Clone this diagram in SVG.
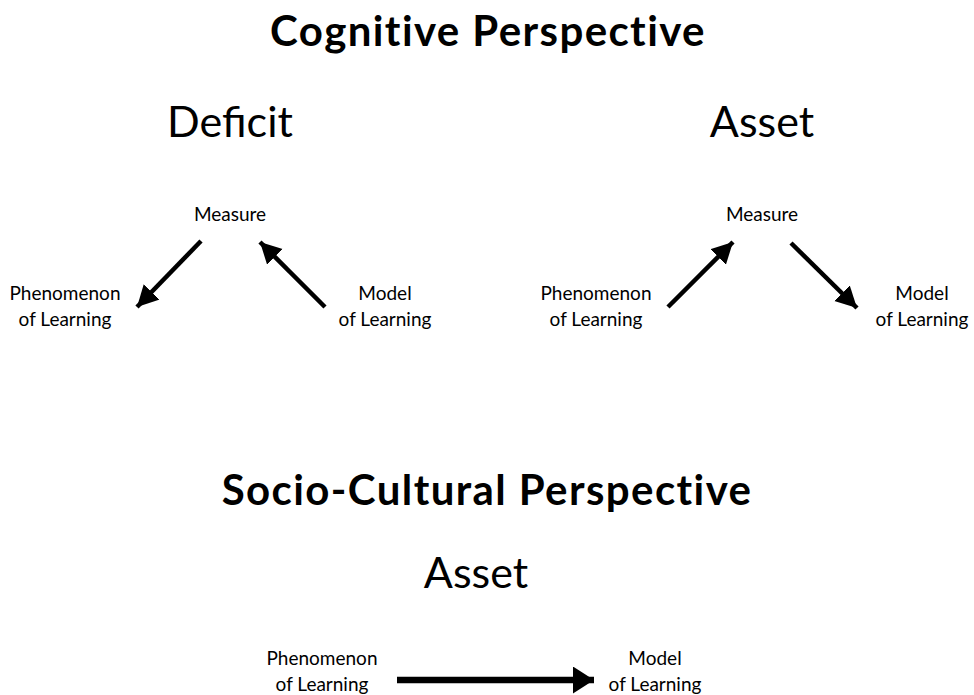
<svg xmlns="http://www.w3.org/2000/svg" width="974" height="695" viewBox="0 0 974 695">
<style>
text{font-family:Lato,"Open Sans","DejaVu Sans",sans-serif;fill:#000;text-anchor:middle}
.h1{font-size:42px;font-weight:700;letter-spacing:1.4px}
.h2{font-size:43px;font-weight:400}
.lb{font-size:19px;font-weight:400}
.ar{stroke:#000;stroke-width:4.5;fill:none}
.ar2{stroke:#000;stroke-width:6.5;fill:none}
</style>
<defs>
<marker id="ah" markerUnits="userSpaceOnUse" markerWidth="24" markerHeight="24" refX="21" refY="11" orient="auto">
<path d="M0,0 L21,11 L0,22 Z" fill="#000"/>
</marker>
<marker id="ah2" markerUnits="userSpaceOnUse" markerWidth="24" markerHeight="30" refX="21" refY="13.5" orient="auto">
<path d="M0,0 L21,13.5 L0,27 Z" fill="#000"/>
</marker>
</defs>
<rect width="974" height="695" fill="#fff"/>
<g id="titles">
<text class="h1" x="488" y="46">Cognitive Perspective</text>
<text class="h2" x="230" y="137">Deficit</text>
<text class="h2" x="762" y="137">Asset</text>
<text class="h1" x="487" y="505">Socio-Cultural Perspective</text>
<text class="h2" x="476" y="588">Asset</text>
</g>
<g id="deficit-measure"><text class="lb" x="230" y="221">Measure</text></g>
<g id="deficit-phenomenon"><text class="lb" x="65" y="300">Phenomenon</text><text class="lb" x="65" y="326">of Learning</text></g>
<g id="deficit-model"><text class="lb" x="385" y="300">Model</text><text class="lb" x="385" y="326">of Learning</text></g>
<g id="asset-measure"><text class="lb" x="762" y="221">Measure</text></g>
<g id="asset-phenomenon"><text class="lb" x="596" y="300">Phenomenon</text><text class="lb" x="596" y="326">of Learning</text></g>
<g id="asset-model"><text class="lb" x="922" y="300">Model</text><text class="lb" x="922" y="326">of Learning</text></g>
<g id="sc-phenomenon"><text class="lb" x="322" y="665">Phenomenon</text><text class="lb" x="322" y="691">of Learning</text></g>
<g id="sc-model"><text class="lb" x="655" y="665">Model</text><text class="lb" x="655" y="691">of Learning</text></g>
<g id="connectors">
<line class="ar" x1="201" y1="241" x2="137" y2="307" marker-end="url(#ah)"/>
<line class="ar" x1="325" y1="307" x2="260" y2="242" marker-end="url(#ah)"/>
<line class="ar" x1="668" y1="307" x2="733" y2="242" marker-end="url(#ah)"/>
<line class="ar" x1="791" y1="243" x2="857" y2="308" marker-end="url(#ah)"/>
<line class="ar2" x1="397" y1="680" x2="594" y2="680" marker-end="url(#ah2)"/>
</g>
</svg>
